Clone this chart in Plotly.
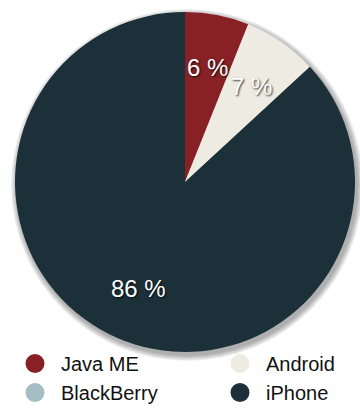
import math
import plotly.graph_objects as go

categories = ["Java ME", "Android", "BlackBerry", "iPhone"]
values = [6, 7, 0, 86]
colors = ["#872126", "#EEEBE3", "#A5BEC6", "#1B3038"]

W, H = 360, 412
cx, cy, R = 185, 182, 170
total = sum(values)

fig = go.Figure()

fig.add_trace(go.Pie(
    labels=categories, values=values, sort=False, direction="clockwise", rotation=0,
    marker=dict(colors=colors, line=dict(width=0)),
    textinfo="none", showlegend=False, hoverinfo="label+percent",
    domain=dict(x=[(cx - R) / W, (cx + R) / W], y=[(H - cy - R) / H, (H - cy + R) / H]),
))

# soft drop shadow behind the pie (stacked translucent discs)
for k in range(1, 7):
    r = R + k
    sx, sy = cx + 2, cy + 3
    fig.add_shape(type="circle", xref="paper", yref="paper", layer="below",
                  x0=(sx - r) / W, x1=(sx + r) / W, y0=1 - (sy + r) / H, y1=1 - (sy - r) / H,
                  fillcolor="rgba(0,0,0,0.06)", line=dict(width=0))

# slice labels placed along each slice's mid-angle
start = 0.0
for c, v in zip(categories, values):
    frac = v / total
    if v > 0:
        mid = (start + frac / 2) * 2 * math.pi
        px = cx + 0.685 * R * math.sin(mid)
        py = cy - 0.685 * R * math.cos(mid)
        fig.add_annotation(x=px / W, y=1 - py / H, xref="paper", yref="paper",
                           xanchor="center", yanchor="middle",
                           text=f"{v} %", showarrow=False,
                           font=dict(family="Liberation Sans, Arial", size=24, color="white",
                                     shadow="1px 1px 2px rgba(0,0,0,0.8)"))
    start += frac

legend_of = ["legend", "legend2", "legend", "legend2"]
for c, col, lg in zip(categories, colors, legend_of):
    fig.add_trace(go.Scatter(x=[None], y=[None], mode="markers", name=c, legend=lg,
                             marker=dict(symbol="circle", size=16, color=col,
                                         line=dict(width=3, color=col))))

leg_common = dict(orientation="v", yanchor="bottom", y=0, itemwidth=42,
                  font=dict(family="Liberation Sans, Arial", size=20, color="#111"),
                  itemsizing="trace", tracegroupgap=0, bgcolor="rgba(0,0,0,0)")
fig.update_layout(
    width=W, height=H, margin=dict(l=0, r=0, t=0, b=0),
    paper_bgcolor="white", plot_bgcolor="white",
    xaxis=dict(visible=False), yaxis=dict(visible=False),
    legend=dict(x=9 / W, **leg_common),
    legend2=dict(x=214 / W, **leg_common),
)
fig.write_html("out.html")
